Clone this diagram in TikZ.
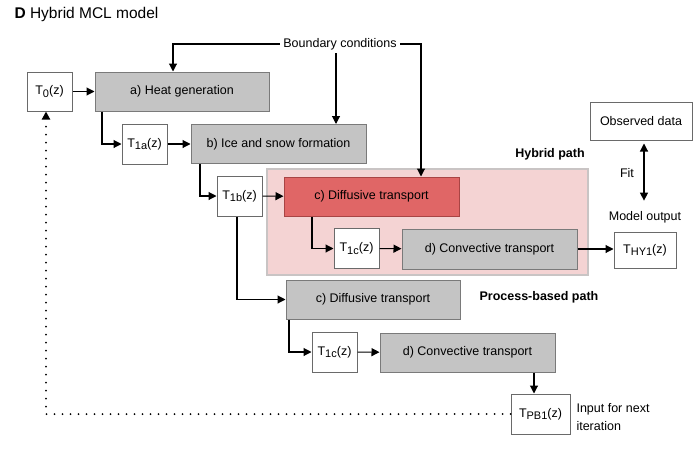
\documentclass[tikz,border=0pt]{standalone}
\usepackage{fontspec}
\setmainfont{Liberation Sans}
\usetikzlibrary{arrows.meta}
\usetikzlibrary{positioning}

\definecolor{procfill}{HTML}{C4C4C4}
\definecolor{procline}{HTML}{7A7A7A}
\definecolor{hybfill}{HTML}{E06666}
\definecolor{hybline}{HTML}{A84444}
\definecolor{pinkfill}{HTML}{F4D3D3}
\definecolor{pinkline}{HTML}{C9C4C4}
\definecolor{tline}{HTML}{6A6A6A}

\newcommand{\tvar}[1]{T\raisebox{-0.35ex}{\fontsize{11}{11}\selectfont #1}(z)}

\begin{document}
\begin{tikzpicture}[x=1pt,y=-1pt,font=\fontsize{12.5}{15}\selectfont]
	%\draw[help lines] (0,0) grid (694,455);
	\useasboundingbox (0,0) rectangle (694,455);

	\tikzstyle{pnode} = [draw=procline,fill=procfill,line width=1pt,minimum width=175pt,minimum height=39pt,inner sep=0pt]
	\tikzstyle{hnode} = [pnode,draw=hybline,fill=hybfill]
	\tikzstyle{tnode} = [draw=tline,fill=white,line width=1pt,minimum width=45pt,minimum height=40pt,inner sep=0pt]
	\tikzstyle{vedge} = [-{Triangle[length=8pt,width=8pt]},line width=1.1pt]
	\tikzstyle{dedge} = [vedge,line cap=round,dash pattern=on 0pt off 8pt,line width=2pt]

\node[anchor=west] (title) at (11,14) {\fontsize{15.5}{18}\selectfont\textbf{D} Hybrid MCL model};

% hybrid region
\node[draw=pinkline,fill=pinkfill,line width=1.2pt,minimum width=321pt,minimum height=106pt] (hyb) at (427.5,222) {};

\node (bc) at (340,44) {Boundary conditions};

\node[tnode,minimum height=39pt] (t0) at (49.5,91.5) {\tvar{0}};
\node[pnode,minimum width=174pt] (heat) at (182,91.5) {a) Heat generation};

\node[tnode] (t1a) at (144.5,144) {\tvar{1a}};
\node[pnode] (ice) at (278.5,144) {b) Ice and snow formation};

\node[tnode] (t1b) at (239.5,196) {\tvar{1b}};
\node[hnode] (hdiff) at (371.5,196.5) {c) Diffusive transport};

\node[tnode] (ht1c) at (356.5,248.5) {\tvar{1c}};
\node[pnode,minimum height=40pt] (hconv) at (489.5,249) {d) Convective transport};

\node[tnode,minimum width=62pt,minimum height=36pt] (thy) at (645,250) {\tvar{HY1}};
\node (mout) at (645,217) {Model output};
\node[tnode,minimum width=102pt,minimum height=38pt] (obs) at (641,121) {Observed data};
\node (fit) at (627,173) {Fit};

\node[font=\fontsize{12.5}{15}\selectfont\bfseries] (hpath) at (550,154) {Hybrid path};
\node[font=\fontsize{12.5}{15}\selectfont\bfseries] (ppath) at (539,297) {Process-based path};

\node[pnode,minimum width=174pt] (pdiff) at (373,299.5) {c) Diffusive transport};
\node[tnode] (pt1c) at (334.5,352) {\tvar{1c}};
\node[pnode] (pconv) at (467.5,352.5) {d) Convective transport};

\node[tnode,minimum width=59pt] (tpb) at (540.5,414) {\tvar{PB1}};
\node[anchor=west,align=left,font=\fontsize{12.5}{18}\selectfont] (next) at (573,417) {Input for next\\iteration};

% boundary conditions
\draw[vedge] (bc.west) -| ([xshift=-9pt]heat.north);
\draw[vedge] ([xshift=-4pt]bc.south) -- ([xshift=-4pt]bc.south |- ice.north);
\draw[vedge] (bc.east) -| ([xshift=49.5pt]hdiff.north);

% main chain
\draw[vedge] (t0) -- (heat);
\draw[vedge] ([xshift=-80pt]heat.south) |- (t1a.west);
\draw[vedge] (t1a) -- (ice);
\draw[vedge] ([xshift=-78.5pt]ice.south) |- (t1b.west);

% hybrid path
\draw[vedge] (t1b) -- (hdiff);
\draw[vedge] ([xshift=-59.5pt]hdiff.south) |- (ht1c.west);
\draw[vedge] (ht1c) -- (hconv);
\draw[vedge] (hconv.east) -- (hconv.east -| thy.west);
\draw[vedge,{Triangle[length=8pt,width=8pt]}-{Triangle[length=8pt,width=8pt]}] ([xshift=3pt,yshift=-3pt]obs.south) -- ([xshift=-1pt,yshift=7pt]mout.north);

% process-based path
\draw[vedge] ([xshift=-2.5pt]t1b.south) |- (pdiff.west);
\draw[vedge] ([xshift=-84pt]pdiff.south) |- (pt1c.west);
\draw[vedge] (pt1c) -- (pconv);
\draw[vedge] ([xshift=66.5pt]pconv.south) -- ([xshift=66.5pt]pconv.south |- tpb.north);

% next iteration
\draw[dedge] (tpb.west) -| ([xshift=-3.5pt]t0.south);
\end{tikzpicture}
\end{document}
